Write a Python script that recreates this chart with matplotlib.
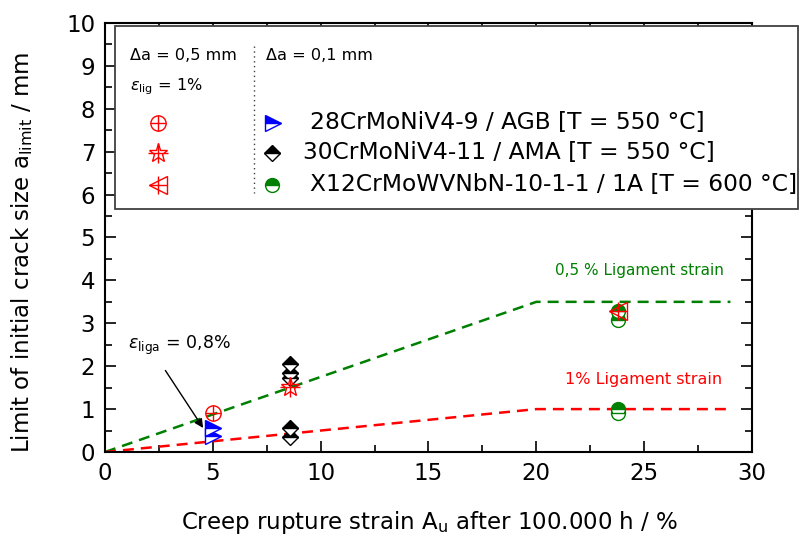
import matplotlib
matplotlib.use("Agg")
import matplotlib.pyplot as plt
from matplotlib.lines import Line2D
from matplotlib.patches import Rectangle
from matplotlib.ticker import MultipleLocator

plt.rcParams['font.family'] = ['DejaVu Sans']
plt.rcParams['mathtext.fontset'] = 'dejavusans'

# Limit curves (ligament strain 0.5 % and 1 %)
limit_x = [0, 20, 29]
limit_05 = [0, 3.5, 3.5]
limit_10 = [0, 1.0, 1.0]

# Delta a = 0.1 mm results
agb_x = [5.0, 5.0]
agb_y = [0.57, 0.37]
ama_x = [8.6, 8.6, 8.6, 8.6, 8.6]
ama_y = [2.05, 1.84, 1.72, 0.56, 0.35]
x12_x = [23.8, 23.8, 23.8, 23.8]
x12_y = [3.28, 3.08, 1.0, 0.9]

# Delta a = 0.5 mm, eps_lig = 1 % results
agb05_x, agb05_y = [5.0], [0.92]
ama05_x, ama05_y = [8.6], [1.52]
x1205_x, x1205_y = [23.8], [3.28]

legend_labels = ["28CrMoNiV4-9 / AGB [T = 550 °C]",
                 "30CrMoNiV4-11 / AMA [T = 550 °C]",
                 "X12CrMoWVNbN-10-1-1 / 1A [T = 600 °C]"]

GREEN = '#008000'
RED = '#ff0000'
BLUE = '#0000ff'
DASH = (4.4, 2.8)

W, H = 803, 540
fig = plt.figure(figsize=(W / 100, H / 100), dpi=100)
ax = fig.add_axes([105 / W, 1 - 452 / H, (752 - 105) / W, (452 - 23) / H])

ax.plot(limit_x, limit_05, color=GREEN, lw=1.8, dashes=DASH, zorder=2)
ax.plot(limit_x, limit_10, color=RED, lw=1.8, dashes=DASH, zorder=2)


def half(x, y, marker, color, ms):
    ax.plot(x, y, ls='none', marker=marker, ms=ms, color=color,
            markerfacecolor=color, markerfacecoloralt='white',
            fillstyle='top', markeredgecolor=color, mew=1.0, zorder=3)


half(agb_x, agb_y, '>', BLUE, 11.5)
half(ama_x, ama_y, 'D', 'black', 8.5)
half(x12_x, x12_y, 'o', GREEN, 10)


def crossed(x, y, marker, ms):
    kws = dict(ls='none', zorder=4, clip_on=False)
    ax.plot(x, y, marker=marker, ms=ms, markerfacecolor='none',
            markeredgecolor=RED, mew=1.0, **kws)
    ax.plot(x, y, marker='+', ms=ms, markeredgecolor=RED, mew=1.0, **kws)


crossed(agb05_x, agb05_y, 'o', 11)
crossed(ama05_x, ama05_y, '*', 14)
crossed(x1205_x, x1205_y, '<', 13)

ax.text(24.8, 4.22, "0,5 % Ligament strain", color=GREEN, fontsize=11,
        ha='center', va='center')
ax.text(24.95, 1.68, "1% Ligament strain", color=RED, fontsize=11.5,
        ha='center', va='center')
ax.text(1.05, 2.49, r"$\varepsilon_{\mathrm{liga}}$ = 0,8%", fontsize=12.5,
        ha='left', va='center')
ax.annotate("", xy=(4.55, 0.56), xytext=(2.8, 1.9),
            arrowprops=dict(arrowstyle='-|>', color='black', lw=1.0,
                            mutation_scale=13, shrinkA=0, shrinkB=0))

ax.set_xlim(0, 30)
ax.set_ylim(0, 10)
ax.xaxis.set_major_locator(MultipleLocator(5))
ax.xaxis.set_minor_locator(MultipleLocator(2.5))
ax.yaxis.set_major_locator(MultipleLocator(1))
ax.yaxis.set_minor_locator(MultipleLocator(0.5))
ax.tick_params(which='both', direction='in', top=True, right=True,
               labelsize=16.5, width=1.2, pad=7)
ax.tick_params(which='major', length=8)
ax.tick_params(which='minor', length=5)
for s in ax.spines.values():
    s.set_linewidth(1.5)

ax.set_xlabel(r"Creep rupture strain A$_{\mathrm{u}}$ after 100.000 h / %",
              fontsize=16.5)
ax.set_ylabel(r"Limit of initial crack size a$_{\mathrm{limit}}$ / mm",
              fontsize=16.5)
ax.xaxis.set_label_coords(0.502, -0.133)
ax.yaxis.set_label_coords(-0.108, 0.466)

# Legend box drawn in figure pixels
def fx(px):
    return px / W


def fy(py):
    return 1 - py / H


fig.patches.append(Rectangle((fx(115), fy(209)), fx(798) - fx(115),
                             fy(26) - fy(209), transform=fig.transFigure,
                             facecolor='white', edgecolor='#404040', lw=1.3,
                             zorder=5))
fig.lines.append(Line2D([fx(254), fx(254)], [fy(46), fy(193)],
                        transform=fig.transFigure, color='#404040', lw=1.0,
                        ls=(0, (1, 2.5)), zorder=6))
fig.text(fx(130), fy(56), "Δa = 0,5 mm", fontsize=11.6, va='center', zorder=7)
fig.text(fx(266), fy(56), "Δa = 0,1 mm", fontsize=11.6, va='center', zorder=7)
fig.text(fx(130), fy(87), r"$\varepsilon_{\mathrm{lig}}$ = 1%", fontsize=11.6,
         va='center', zorder=7)

rows = [123, 153, 185]
red_m = [('o', 11), ('*', 14), ('<', 13)]
for (m, ms), py in zip(red_m, rows):
    for mk, msz in ((m, ms), ('+', ms)):
        fig.lines.append(Line2D([fx(158)], [fy(py)], transform=fig.transFigure,
                                marker=mk, ms=msz, markerfacecolor='none',
                                markeredgecolor=RED, mew=1.0, ls='none',
                                zorder=7))

half_m = [('>', BLUE, 11.5, 273), ('D', 'black', 8.5, 272), ('o', GREEN, 10, 272)]
for (m, c, ms, px), py in zip(half_m, rows):
    fig.lines.append(Line2D([fx(px)], [fy(py)], transform=fig.transFigure,
                            marker=m, ms=ms, color=c, markerfacecolor=c,
                            markerfacecoloralt='white', fillstyle='top',
                            markeredgecolor=c, mew=1.0, ls='none', zorder=7))

text_x = [310, 303, 310]
for lab, px, py in zip(legend_labels, text_x, rows):
    fig.text(fx(px), fy(py), lab, fontsize=16.8, va='center', zorder=7)

fig.savefig("out.png", dpi=100)
